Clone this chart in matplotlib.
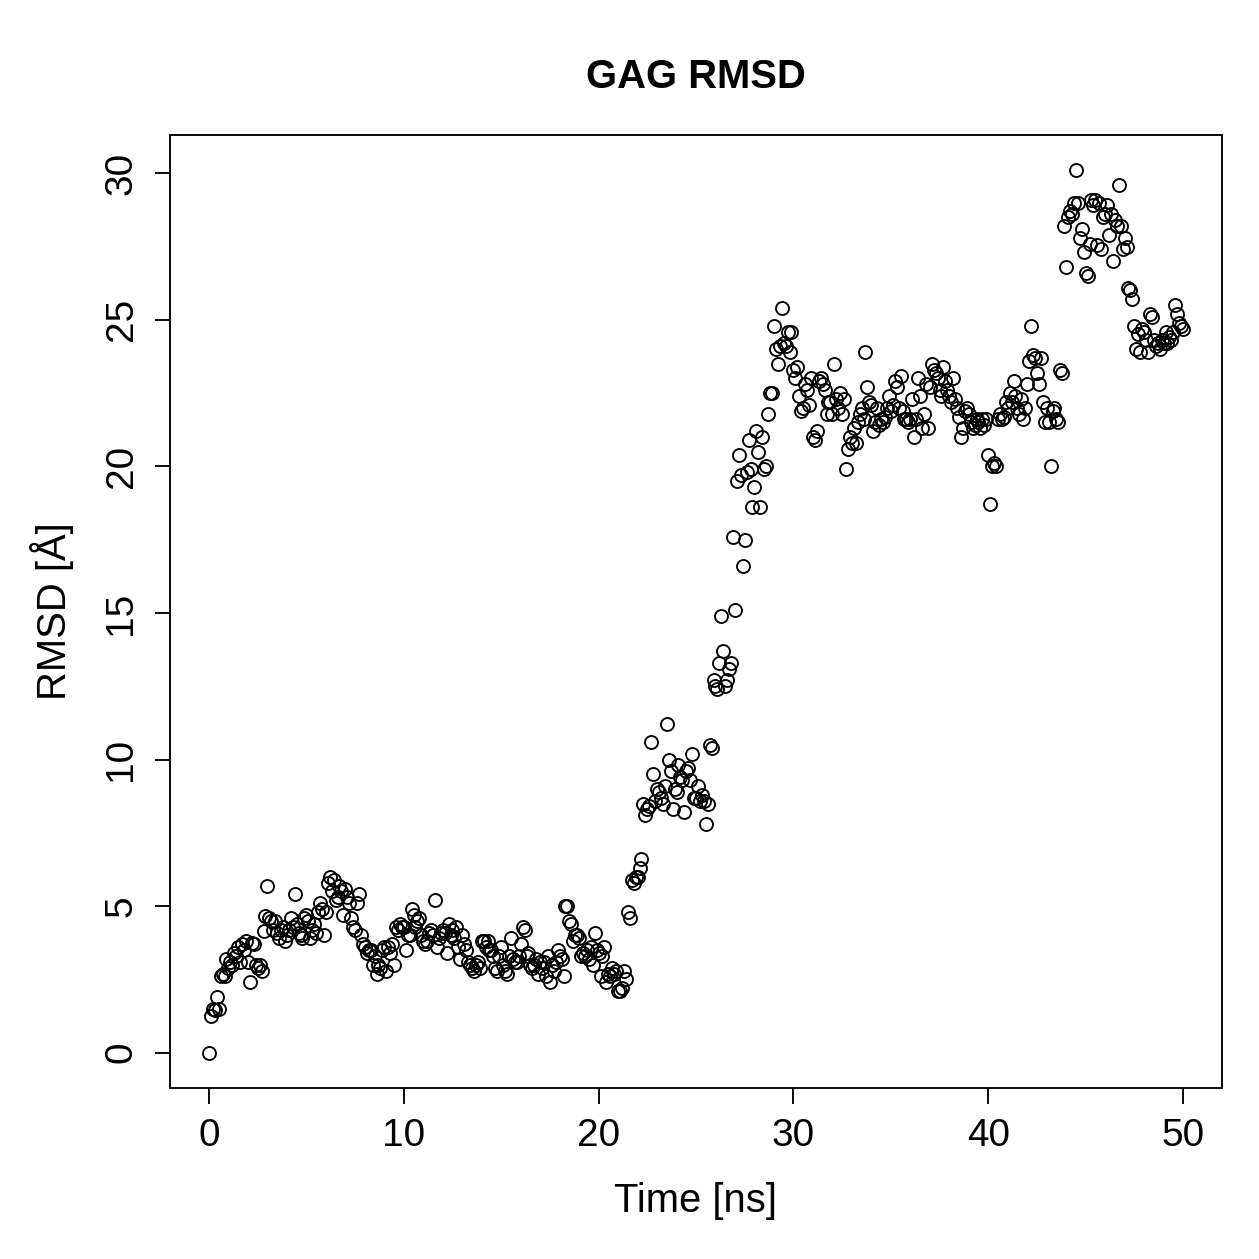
import numpy as np
import matplotlib
import matplotlib.pyplot as plt

matplotlib.use("Agg")

# RMSD values, 0.1 ns apart, one row per nanosecond
rmsd_rows = [
    [0.0, 1.25, 1.5, 1.45, 1.9, 1.5, 2.6, 2.7, 2.6, 3.2],
    [2.9, 3.1, 3.0, 3.4, 3.3, 3.6, 3.1, 3.7, 3.5, 3.8],
    [3.1, 2.4, 3.75, 3.7, 3.0, 2.9, 3.0, 2.8, 4.15, 4.65],
    [5.7, 4.6, 4.5, 4.2, 4.5, 4.1, 3.9, 4.2, 4.3, 3.8],
    [4.0, 4.2, 4.6, 4.3, 5.4, 4.4, 4.1, 4.0, 3.9, 4.6],
    [4.7, 4.5, 3.9, 4.2, 4.4, 4.1, 4.8, 5.1, 4.9, 4.0],
    [4.8, 5.8, 6.0, 5.5, 5.9, 5.2, 5.3, 5.7, 5.5, 4.7],
    [5.6, 5.3, 5.1, 4.6, 4.3, 4.2, 5.1, 5.4, 4.0, 3.7],
    [3.6, 3.4, 3.5, 3.5, 3.0, 3.3, 2.7, 3.0, 2.9, 3.5],
    [3.6, 2.8, 3.6, 3.4, 3.7, 3.0, 4.3, 4.2, 4.4, 4.3],
    [4.3, 3.5, 4.0, 4.0, 4.9, 4.7, 4.3, 4.5, 4.6, 4.0],
    [3.8, 3.7, 3.8, 4.1, 4.2, 4.0, 5.2, 3.6, 3.9, 4.1],
    [4.2, 4.1, 3.4, 4.4, 4.0, 4.2, 3.9, 4.3, 3.6, 3.2],
    [4.0, 3.7, 3.5, 3.1, 3.0, 2.9, 2.8, 3.0, 3.1, 2.9],
    [3.8, 3.8, 3.6, 3.8, 3.5, 3.5, 3.3, 2.9, 2.8, 3.3],
    [3.6, 3.0, 2.8, 2.7, 3.3, 3.9, 3.2, 3.1, 3.1, 3.3],
    [3.7, 4.3, 4.2, 3.3, 3.4, 3.0, 2.9, 3.0, 3.2, 2.7],
    [3.1, 2.9, 3.1, 2.6, 3.3, 2.4, 3.0, 2.8, 3.1, 3.5],
    [3.3, 3.2, 2.6, 5.0, 5.0, 4.5, 4.4, 3.8, 4.0, 4.0],
    [3.9, 3.3, 3.4, 3.3, 3.5, 3.2, 3.6, 3.0, 4.1, 3.5],
    [3.4, 2.6, 3.3, 3.6, 2.4, 2.7, 2.6, 2.9, 2.7, 2.8],
    [2.1, 2.1, 2.2, 2.8, 2.5, 4.8, 4.6, 5.9, 5.8, 6.0],
    [6.0, 6.3, 6.6, 8.5, 8.1, 8.3, 8.4, 10.6, 9.5, 8.6],
    [9.0, 8.9, 8.7, 8.5, 9.1, 11.2, 10.0, 9.6, 8.3, 9.0],
    [8.9, 9.8, 9.4, 9.3, 8.2, 9.6, 9.7, 9.3, 10.2, 8.7],
    [8.7, 9.1, 8.6, 8.8, 8.6, 7.8, 8.5, 10.5, 10.4, 12.7],
    [12.5, 12.4, 13.3, 14.9, 13.7, 12.5, 12.7, 13.1, 13.3, 17.6],
    [15.1, 19.5, 20.4, 19.7, 16.6, 17.5, 19.8, 20.9, 19.9, 18.6],
    [19.3, 21.2, 20.5, 18.6, 21.0, 19.9, 20.0, 21.8, 22.5, 22.5],
    [24.8, 24.0, 23.5, 24.1, 25.4, 24.2, 24.1, 24.6, 23.9, 24.6],
    [23.3, 23.0, 23.4, 22.4, 21.9, 22.0, 22.8, 22.6, 22.1, 23.0],
    [21.0, 20.9, 21.2, 22.9, 23.0, 22.8, 22.6, 21.8, 22.2, 22.2],
    [21.8, 23.5, 22.3, 22.0, 22.5, 21.8, 22.3, 19.9, 20.6, 21.0],
    [20.8, 21.3, 20.8, 21.5, 21.8, 22.0, 21.6, 23.9, 22.7, 22.2],
    [22.1, 21.2, 21.5, 22.0, 21.4, 21.6, 21.5, 21.7, 22.0, 22.4],
    [21.9, 22.1, 22.9, 22.7, 22.0, 23.1, 21.9, 21.6, 21.6, 21.5],
    [21.6, 22.3, 21.0, 21.6, 23.0, 22.4, 21.3, 21.8, 22.8, 21.3],
    [22.7, 23.5, 23.3, 23.2, 23.0, 22.6, 22.4, 23.4, 22.9, 22.6],
    [22.4, 22.2, 23.0, 22.3, 22.0, 21.7, 21.0, 21.3, 21.9, 22.0],
    [21.8, 21.5, 21.3, 21.4, 21.6, 21.5, 21.3, 21.6, 21.4, 21.6],
    [20.4, 18.7, 20.0, 20.1, 20.0, 21.6, 21.8, 21.6, 21.7, 22.2],
    [22.0, 22.5, 22.2, 22.9, 22.4, 22.0, 21.8, 22.3, 21.6, 22.0],
    [22.8, 23.6, 24.8, 23.8, 23.7, 23.2, 22.8, 23.7, 22.2, 21.5],
    [22.0, 21.5, 20.0, 21.9, 22.0, 21.6, 21.5, 23.3, 23.2, 28.2],
    [26.8, 28.5, 28.7, 28.6, 29.0, 30.1, 29.0, 27.8, 28.1, 27.3],
    [26.6, 26.5, 27.6, 29.1, 28.9, 29.1, 27.55, 29.0, 27.4, 28.5],
    [28.6, 28.9, 27.9, 28.6, 27.0, 28.4, 28.2, 29.6, 28.2, 27.4],
    [27.8, 27.5, 26.1, 26.0, 25.7, 24.8, 24.0, 24.5, 23.9, 24.7],
    [24.6, 24.3, 23.9, 25.2, 25.1, 24.3, 24.1, 24.2, 24.0, 24.3],
    [24.2, 24.6, 24.2, 24.4, 24.3, 24.6, 25.5, 25.2, 24.9, 24.8],
    [24.7],
]
rmsd = np.array([v for row in rmsd_rows for v in row])
time_ns = np.arange(len(rmsd)) * 0.1

xticks = [0, 10, 20, 30, 40, 50]
yticks = [0, 5, 10, 15, 20, 25, 30]

plt.rcParams["font.family"] = ["Liberation Sans", "DejaVu Sans"]
plt.rcParams["font.size"] = 16

fig = plt.figure(figsize=(1259 / 180, 1259 / 180), dpi=180)
ax = fig.add_axes([170 / 1259, 1 - 1088 / 1259, (1222 - 170) / 1259, (1088 - 135) / 1259])

ax.plot(time_ns, rmsd, linestyle="none", marker="o", markersize=5.2,
        markerfacecolor="none", markeredgecolor="black", markeredgewidth=0.75)

# R-style 4% padding
def padded(lo, hi):
    p = 0.04 * (hi - lo)
    return lo - p, hi + p

ax.set_xlim(*padded(time_ns.min(), time_ns.max()))
ax.set_ylim(*padded(rmsd.min(), rmsd.max()))
ax.set_xticks(xticks)
ax.set_yticks(yticks)
ax.tick_params(direction="out", length=6.2, width=0.75, pad=6, labelsize=15.5)
for lab in ax.get_yticklabels():
    lab.set_rotation(90)
    lab.set_va("center")
for s in ax.spines.values():
    s.set_linewidth(0.75)

ax.set_xlabel("Time [ns]", labelpad=11)
ax.set_ylabel("RMSD [Å]", labelpad=12)
ax.set_title("GAG RMSD", fontsize=16, fontweight="bold", pad=19)

fig.savefig("out.png", dpi=180)
